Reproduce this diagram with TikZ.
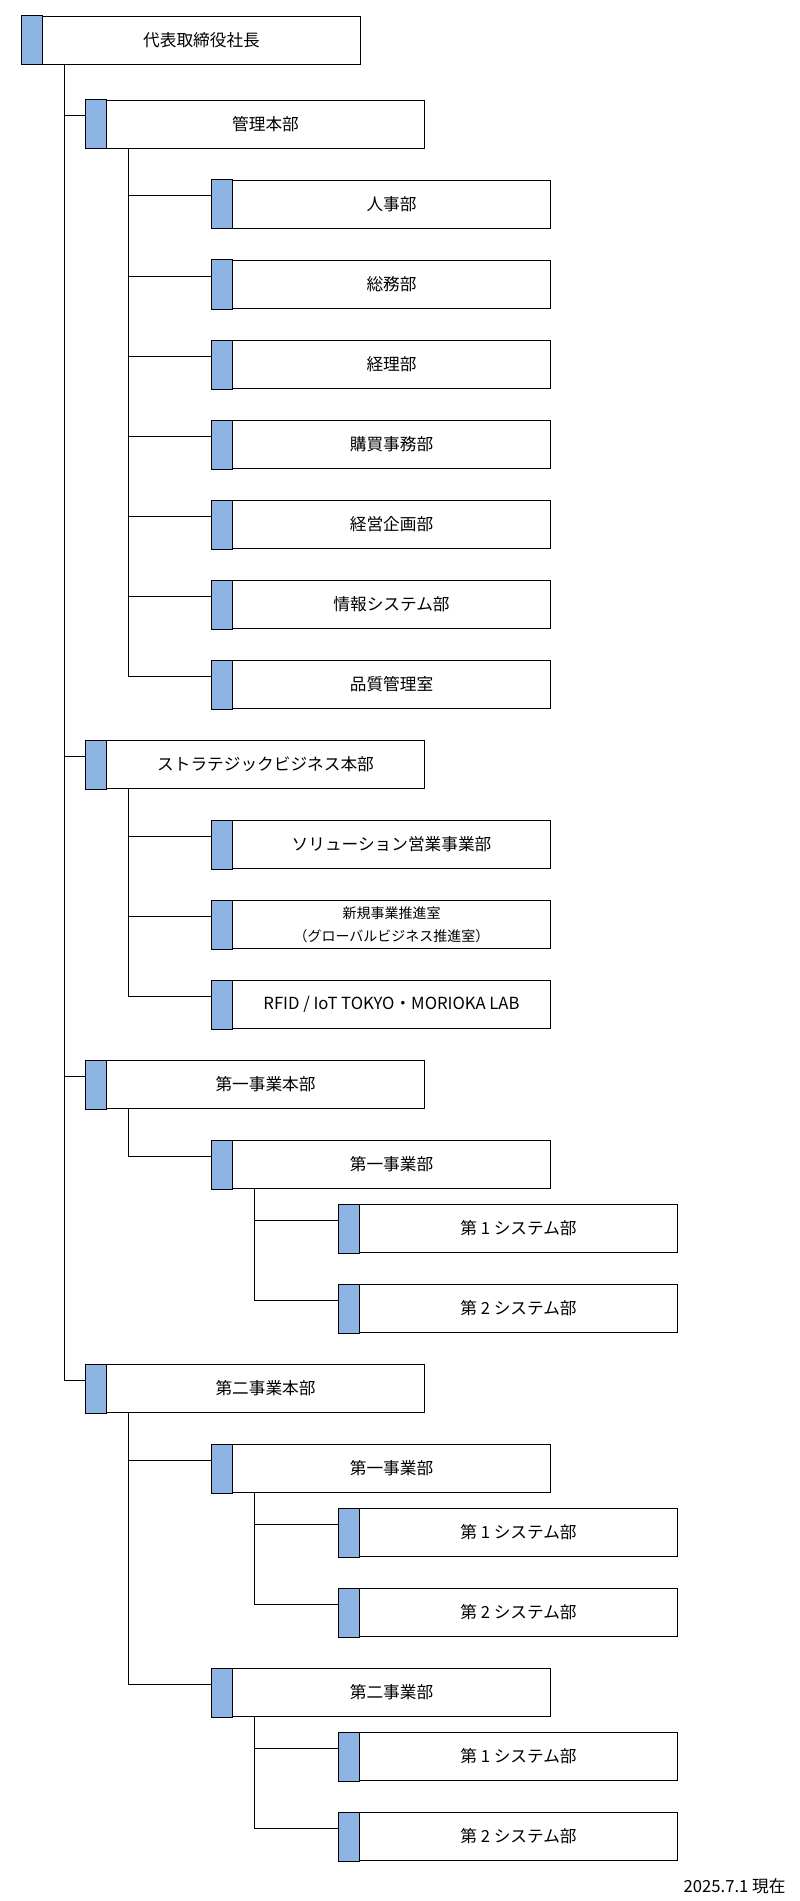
\documentclass[tikz,border=0pt]{standalone}
\usepackage{fontspec}
\setmainfont{Noto Sans CJK JP}
\definecolor{barblue}{HTML}{8EB4E3}
\tikzset{
  orgbox/.style={draw, anchor=north west, minimum width=238.5pt, minimum height=36pt,
    inner sep=0pt, align=center, font=\fontsize{12.5}{15}\selectfont},
  orgline/.style={line width=0.75pt}
}
% box with blue bar on the left: [options], name, x, y, text
\newcommand\orgbox[5][]{%
  \node[orgbox,#1] (#2) at (#3+21,#4) {#5};
  \fill[barblue,draw=black,line width=0.75pt] (#2.north west) rectangle ([xshift=-15.75pt]#2.south west);
}
% connector from parent to child
\newcommand\orglink[2]{%
  \draw[orgline] ([xshift=16.5pt]#1.south west) |- ([xshift=-15.75pt,yshift=-12pt]#2.north west);
}
\begin{document}
\begin{tikzpicture}[x=0.75pt,y=-0.75pt,line width=0.75pt]
\useasboundingbox (0,0) rectangle (799,1901);
\orgbox{ceo}{21}{16}{代表取締役社長}
\orgbox{kanri}{85}{100}{管理本部}
\orgbox{jinji}{211}{180}{人事部}
\orgbox{soumu}{211}{260}{総務部}
\orgbox{keiri}{211}{340}{経理部}
\orgbox{koubai}{211}{420}{購買事務部}
\orgbox{keiei}{211}{500}{経営企画部}
\orgbox{joho}{211}{580}{情報システム部}
\orgbox{hinshitsu}{211}{660}{品質管理室}
\orgbox{strat}{85}{740}{ストラテジックビジネス本部}
\orgbox{solution}{211}{820}{ソリューション営業事業部}
\orgbox[font=\fontsize{10.5}{17}\selectfont]{shinki}{211}{900}{新規事業推進室\\（グローバルビジネス推進室）}
\orgbox{rfid}{211}{980}{RFID / IoT TOKYO・MORIOKA LAB}
\orgbox{honbuA}{85}{1060}{第一事業本部}
\orgbox{jigyoA}{211}{1140}{第一事業部}
\orgbox{sysAa}{338}{1204}{第 1 システム部}
\orgbox{sysAb}{338}{1284}{第 2 システム部}
\orgbox{honbuB}{85}{1364}{第二事業本部}
\orgbox{jigyoBa}{211}{1444}{第一事業部}
\orgbox{sysBa}{338}{1508}{第 1 システム部}
\orgbox{sysBb}{338}{1588}{第 2 システム部}
\orgbox{jigyoBb}{211}{1668}{第二事業部}
\orgbox{sysBc}{338}{1732}{第 1 システム部}
\orgbox{sysBd}{338}{1812}{第 2 システム部}
% connectors
\foreach \c in {kanri,strat,honbuA,honbuB} {\orglink{ceo}{\c}}
\foreach \c in {jinji,soumu,keiri,koubai,keiei,joho,hinshitsu} {\orglink{kanri}{\c}}
\foreach \c in {solution,shinki,rfid} {\orglink{strat}{\c}}
\orglink{honbuA}{jigyoA}
\foreach \c in {sysAa,sysAb} {\orglink{jigyoA}{\c}}
\foreach \c in {jigyoBa,jigyoBb} {\orglink{honbuB}{\c}}
\foreach \c in {sysBa,sysBb} {\orglink{jigyoBa}{\c}}
\foreach \c in {sysBc,sysBd} {\orglink{jigyoBb}{\c}}
\node[anchor=east, inner sep=0pt, font=\fontsize{12.5}{15}\selectfont] (date) at (786,1886) {2025.7.1 現在};
\end{tikzpicture}
\end{document}
